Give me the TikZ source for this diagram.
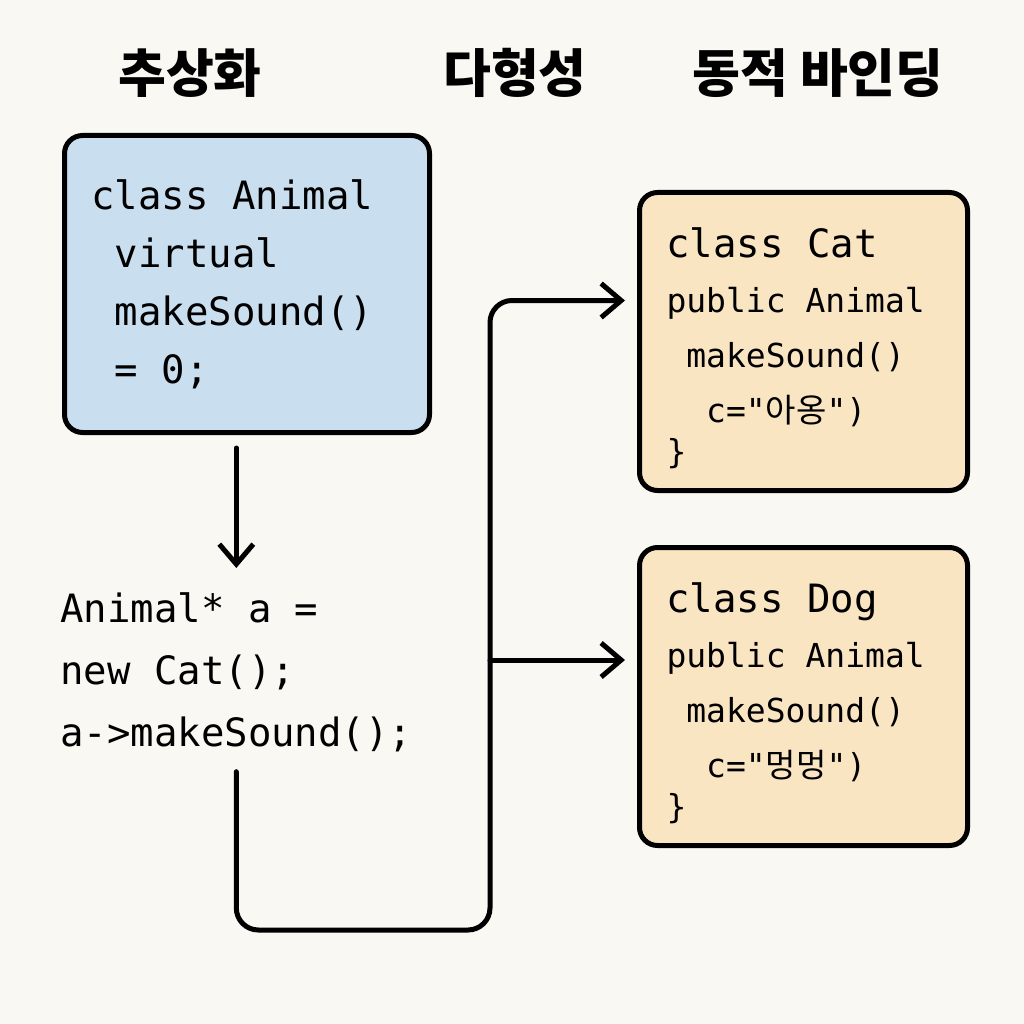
\documentclass[tikz,border=0pt]{standalone}
\usepackage{fontspec}
\newfontfamily\krfont{Noto Sans CJK KR}
\newfontfamily\codefont{DejaVu Sans Mono}
\usepackage{xcolor}
\usetikzlibrary{positioning,arrows.meta}
\definecolor{paper}{HTML}{FAF8F3}
\definecolor{absblue}{HTML}{C9DEEE}
\definecolor{subbeige}{HTML}{FAE5C3}
\newcommand{\kr}[1]{{\krfont #1}}
\newcommand{\sk}{\phantom{x}}

\begin{document}
\begin{tikzpicture}[x=1pt, y=-1pt,
  title/.style={font=\krfont\bfseries\fontsize{52}{60}\selectfont, anchor=base},
  classbox/.style={draw=black, line width=5pt, rounded corners=18pt, align=left,
                   inner xsep=27pt, inner ysep=0pt},
  code/.style={font=\codefont\fontsize{39}{62}\selectfont, align=left, inner sep=0pt},
  arr/.style={-{Straight Barb[length=20pt,width=34pt]}, line width=5pt, line cap=round}]
\useasboundingbox[fill=paper] (0,0) rectangle (1024,1024);
% column titles
\node[title] (tabs) at (190,93) {추상화};
\node[title] (tpoly) at (515,93) {다형성};
\node[title] (tbind) at (818,93) {동적 바인딩};
% base class
\node[classbox, fill=absblue, minimum width=365pt, minimum height=297pt, text width=311pt,
      font=\codefont\fontsize{39}{58}\selectfont] (abs) at (247,284)
  {class\sk Animal\\\sk virtual\\\sk makeSound()\\\sk=\sk 0;};
% derived classes
\node[classbox, fill=subbeige, minimum width=328pt, minimum height=298pt, text width=274pt,
      font=\codefont\fontsize{33}{55}\selectfont] (cat) at (803.5,341.5)
  {{\fontsize{39}{55}\selectfont\rule{0pt}{44pt}class\sk Cat}\\public\sk Animal\\\sk makeSound()\\
   \sk\sk c="\kr{아옹}")\\[-14pt]\}};
\node[classbox, fill=subbeige, minimum width=328pt, minimum height=298pt, text width=274pt,
      font=\codefont\fontsize{33}{55}\selectfont, below=52pt of cat] (dog)
  {{\fontsize{39}{55}\selectfont\rule{0pt}{44pt}class\sk Dog}\\public\sk Animal\\\sk makeSound()\\
   \sk\sk c="\kr{멍멍}")\\[-14pt]\}};
% the call
\node[code, anchor=north west] (call) at (60,592)
  {Animal* a =\\new Cat();\\a->makeSound();};
\coordinate (bend) at (490,930);
\coordinate (fork) at (490,660);
\draw[arr, shorten <=13pt, shorten >=24pt] (abs.south -| call.north) -- (call.north);
\draw[arr, rounded corners=22pt, shorten <=20pt, shorten >=12pt]
  (call.south) |- (bend) |- ([yshift=41pt]cat.west);
\draw[arr, shorten >=12pt] (fork) -- (fork -| dog.west);
\end{tikzpicture}
\end{document}
